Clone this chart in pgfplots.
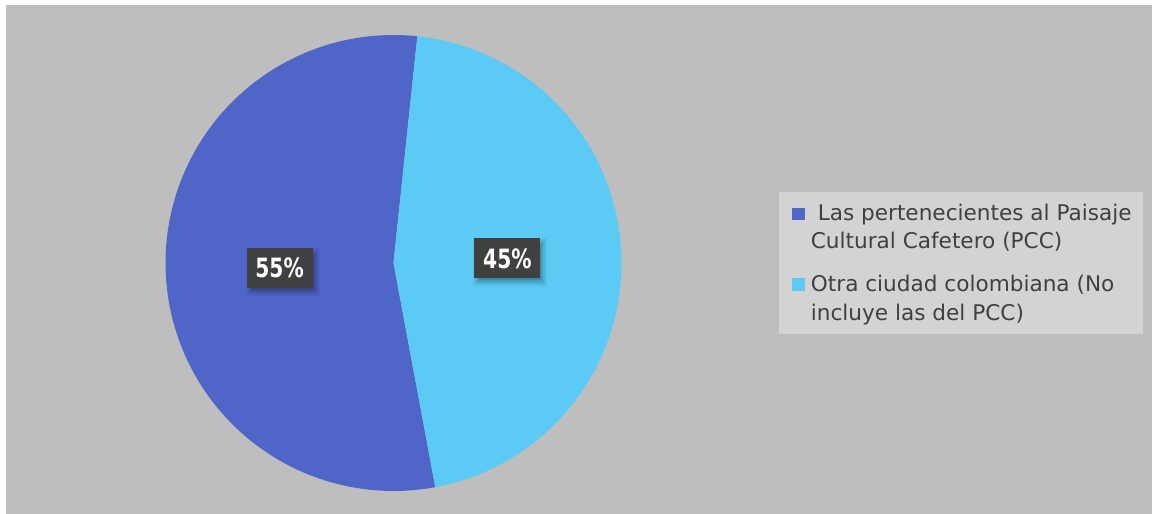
\documentclass[border=0pt]{standalone}
\usepackage{pgfplots}
\pgfplotsset{compat=1.18}
\usepackage{graphicx}
\usepackage{fontspec}
\setmainfont{DejaVu Sans}
\definecolor{bggray}{HTML}{BEBEBE}
\definecolor{leggray}{HTML}{D3D3D3}
\definecolor{darkblue}{HTML}{4F66C8}
\definecolor{lightblue}{HTML}{5BCBF5}
\definecolor{boxgray}{HTML}{404040}
\definecolor{txtgray}{HTML}{404040}
% data (percent)
\def\va{54.6}   % Las pertenecientes al Paisaje Cultural Cafetero (PCC)
\def\vb{45.4}   % Otra ciudad colombiana (No incluye las del PCC)
\def\astart{84}
\def\cx{393.5}
\def\cy{263}
\def\R{228}
\newcommand{\pctlabel}[1]{\scalebox{0.76}[1]{\fontsize{13.3pt}{13.3pt}\selectfont\bfseries #1}}
\newcommand{\shadowlayer}[3]{%
  \fill[black, opacity=#3] (axis cs:{\cx+0.5*\R*cos(#1)-33+#2+3},{\cy-0.5*\R*sin(#1)-20+#2+4}) rectangle (axis cs:{\cx+0.5*\R*cos(#1)+33-#2+3},{\cy-0.5*\R*sin(#1)+20-#2+4});
}
\newcommand{\datalabel}[2]{%
  \shadowlayer{#1}{-4}{0.06}
  \shadowlayer{#1}{-2}{0.08}
  \shadowlayer{#1}{0}{0.10}
  \shadowlayer{#1}{2}{0.12}
  \node[fill=boxgray, text=white, minimum width=33pt, minimum height=20pt, inner sep=0pt]
    at (axis cs:{\cx+0.5*\R*cos(#1)},{\cy-0.5*\R*sin(#1)}) {\pctlabel{#2}};
}
\begin{document}
\begin{tikzpicture}
\begin{axis}[
  width=576pt, height=257pt, scale only axis,
  xmin=0, xmax=1152, ymin=0, ymax=514, y dir=reverse,
  hide axis, clip=false,
]
\fill[white] (axis cs:0,0) rectangle (axis cs:1152,514);
\fill[bggray] (axis cs:6,5) rectangle (axis cs:1152,514);
% slices
\addplot[fill=darkblue, draw=none, domain=-0.01:1, samples=102, variable=\t]
  ({\t < -0.005 ? \cx : \cx+\R*cos(\astart+3.6*\va*\t)},
   {\t < -0.005 ? \cy : \cy-\R*sin(\astart+3.6*\va*\t)});
\addplot[fill=lightblue, draw=none, domain=-0.01:1, samples=102, variable=\t]
  ({\t < -0.005 ? \cx : \cx+\R*cos(\astart-3.6*\vb*\t)},
   {\t < -0.005 ? \cy : \cy-\R*sin(\astart-3.6*\vb*\t)});
% data labels (at half radius on the bisector of each slice)
\datalabel{\astart+1.8*\va}{55\%}
\datalabel{\astart-1.8*\vb}{45\%}
% legend
\fill[leggray] (axis cs:779,192) rectangle (axis cs:1143,334);
\fill[darkblue] (axis cs:792,207.5) rectangle (axis cs:804.5,219.5);
\fill[lightblue] (axis cs:792,278) rectangle (axis cs:804.5,290.5);
\begin{scope}[every node/.style={anchor=base west, inner sep=0pt, text=txtgray, font=\fontsize{10.8pt}{12pt}\selectfont}]
\node at (axis cs:810.5,220) {\ Las pertenecientes al Paisaje};
\node at (axis cs:810.5,248.5) {Cultural Cafetero (PCC)};
\node at (axis cs:810.5,291) {Otra ciudad colombiana (No};
\node at (axis cs:810.5,320) {incluye las del PCC)};
\end{scope}
\end{axis}
\end{tikzpicture}
\end{document}
